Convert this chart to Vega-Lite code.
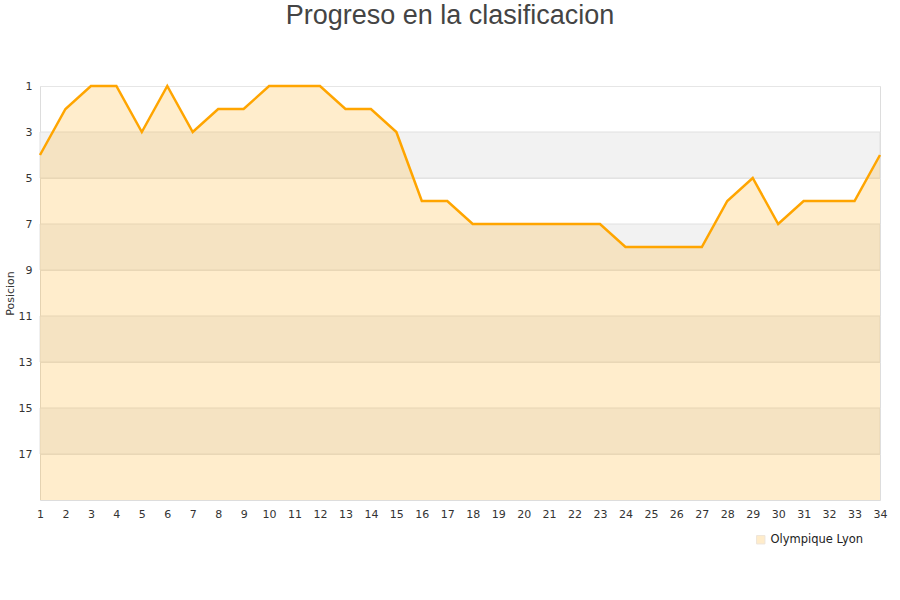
{
  "$schema": "https://vega.github.io/schema/vega-lite/v6.json",
  "width": 840,
  "height": 414,
  "autosize": {"type": "none"},
  "padding": {"left": 40, "top": 86, "right": 20, "bottom": 100},
  "background": "white",
  "title": {
    "text": "Progreso en la clasificacion",
    "font": "Liberation Sans",
    "fontSize": 27,
    "fontWeight": "normal",
    "color": "#444444",
    "anchor": "middle",
    "dx": -10,
    "offset": 50
  },
  "config": {
    "view": {"stroke": "#dddddd", "strokeWidth": 1},
    "axis": {"labelFont": "DejaVu Sans", "labelFontSize": 11, "labelColor": "#333333", "titleFont": "DejaVu Sans", "titleFontWeight": "normal"},
    "axisX": {"labelOverlap": false}
  },
  "datasets": {
    "pos": [
      {"jornada": 1, "posicion": 4, "equipo": "Olympique Lyon"},
      {"jornada": 2, "posicion": 2, "equipo": "Olympique Lyon"},
      {"jornada": 3, "posicion": 1, "equipo": "Olympique Lyon"},
      {"jornada": 4, "posicion": 1, "equipo": "Olympique Lyon"},
      {"jornada": 5, "posicion": 3, "equipo": "Olympique Lyon"},
      {"jornada": 6, "posicion": 1, "equipo": "Olympique Lyon"},
      {"jornada": 7, "posicion": 3, "equipo": "Olympique Lyon"},
      {"jornada": 8, "posicion": 2, "equipo": "Olympique Lyon"},
      {"jornada": 9, "posicion": 2, "equipo": "Olympique Lyon"},
      {"jornada": 10, "posicion": 1, "equipo": "Olympique Lyon"},
      {"jornada": 11, "posicion": 1, "equipo": "Olympique Lyon"},
      {"jornada": 12, "posicion": 1, "equipo": "Olympique Lyon"},
      {"jornada": 13, "posicion": 2, "equipo": "Olympique Lyon"},
      {"jornada": 14, "posicion": 2, "equipo": "Olympique Lyon"},
      {"jornada": 15, "posicion": 3, "equipo": "Olympique Lyon"},
      {"jornada": 16, "posicion": 6, "equipo": "Olympique Lyon"},
      {"jornada": 17, "posicion": 6, "equipo": "Olympique Lyon"},
      {"jornada": 18, "posicion": 7, "equipo": "Olympique Lyon"},
      {"jornada": 19, "posicion": 7, "equipo": "Olympique Lyon"},
      {"jornada": 20, "posicion": 7, "equipo": "Olympique Lyon"},
      {"jornada": 21, "posicion": 7, "equipo": "Olympique Lyon"},
      {"jornada": 22, "posicion": 7, "equipo": "Olympique Lyon"},
      {"jornada": 23, "posicion": 7, "equipo": "Olympique Lyon"},
      {"jornada": 24, "posicion": 8, "equipo": "Olympique Lyon"},
      {"jornada": 25, "posicion": 8, "equipo": "Olympique Lyon"},
      {"jornada": 26, "posicion": 8, "equipo": "Olympique Lyon"},
      {"jornada": 27, "posicion": 8, "equipo": "Olympique Lyon"},
      {"jornada": 28, "posicion": 6, "equipo": "Olympique Lyon"},
      {"jornada": 29, "posicion": 5, "equipo": "Olympique Lyon"},
      {"jornada": 30, "posicion": 7, "equipo": "Olympique Lyon"},
      {"jornada": 31, "posicion": 6, "equipo": "Olympique Lyon"},
      {"jornada": 32, "posicion": 6, "equipo": "Olympique Lyon"},
      {"jornada": 33, "posicion": 6, "equipo": "Olympique Lyon"},
      {"jornada": 34, "posicion": 4, "equipo": "Olympique Lyon"}
    ],
    "bandas": [
      {"desde": 3, "hasta": 5},
      {"desde": 7, "hasta": 9},
      {"desde": 11, "hasta": 13},
      {"desde": 15, "hasta": 17}
    ]
  },
  "layer": [
    {
      "data": {"name": "bandas"},
      "mark": {"type": "rect", "fill": "#f2f2f2", "stroke": "#e0e0e0", "strokeWidth": 1},
      "encoding": {
        "y": {"field": "desde", "type": "quantitative", "scale": {"domain": [1, 19], "reverse": true, "nice": false, "zero": false},
          "axis": {"values": [1, 3, 5, 7, 9, 11, 13, 15, 17], "title": "Posicion", "titleFontSize": 11, "titleColor": "#333333", "titlePadding": 3, "domain": false, "ticks": false, "grid": true, "gridColor": "#e6e6e6", "labelPadding": 8}},
        "y2": {"field": "hasta"}
      }
    },
    {
      "data": {"name": "pos"},
      "mark": {"type": "area", "opacity": 0.23, "interpolate": "linear"},
      "encoding": {
        "x": {"field": "jornada", "type": "quantitative", "scale": {"domain": [1, 34], "nice": false, "zero": false},
          "axis": {"values": [1,2,3,4,5,6,7,8,9,10,11,12,13,14,15,16,17,18,19,20,21,22,23,24,25,26,27,28,29,30,31,32,33,34], "labelOverlap": false, "title": null, "grid": false, "domain": false, "ticks": false, "labelPadding": 8, "labelFlush": false}},
        "y": {"field": "posicion", "type": "quantitative"},
        "y2": {"datum": 19},
        "color": {"field": "equipo", "type": "nominal", "scale": {"range": ["#ffb021"]},
          "legend": {"orient": "none", "legendX": 715, "legendY": 448, "title": null, "symbolType": "square", "symbolSize": 70, "symbolStrokeWidth": 1, "symbolStrokeColor": "#b89060", "labelFont": "DejaVu Sans", "labelFontSize": 11.5, "labelColor": "#222222",
            "encode": {"symbols": {"update": {"fill": {"value": "#ffedcc"}, "stroke": {"value": "#b89060"}, "strokeWidth": {"value": 1}, "opacity": {"value": 1}, "fillOpacity": {"value": 1}, "strokeOpacity": {"value": 1}}}}}}
      }
    },
    {
      "data": {"name": "pos"},
      "mark": {"type": "line", "color": "#ffa500", "strokeWidth": 2.5},
      "encoding": {
        "x": {"field": "jornada", "type": "quantitative",
          "axis": {"values": [1,2,3,4,5,6,7,8,9,10,11,12,13,14,15,16,17,18,19,20,21,22,23,24,25,26,27,28,29,30,31,32,33,34], "labelOverlap": false, "title": null, "grid": false, "domain": false, "ticks": false, "labelPadding": 8, "labelFlush": false}},
        "y": {"field": "posicion", "type": "quantitative"}
      }
    }
  ]
}
